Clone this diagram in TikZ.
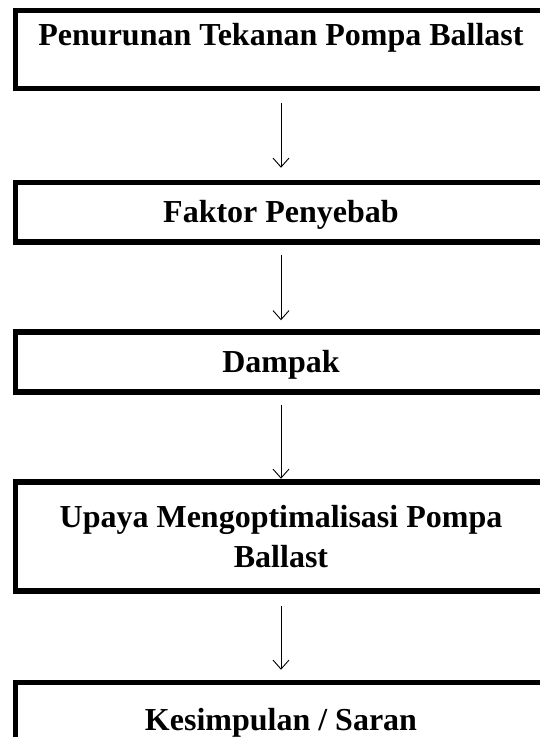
\documentclass[tikz,border=0pt]{standalone}
\usepackage{fontspec}
\setmainfont{Liberation Serif}
\usetikzlibrary{arrows.meta,positioning}

\begin{document}
\begin{tikzpicture}[
    x=1pt,y=-1pt,
    >={Straight Barb[length=9pt,width=16pt]},
    box/.style={draw,line width=5.5pt,minimum width=531pt,align=center,
        font=\fontsize{32}{40}\selectfont\bfseries},
    link/.style={->,line width=0.9pt},
]
\useasboundingbox (0,0) rectangle (540,737);
\clip (0,0) rectangle (540,737);

\node[box,minimum height=78pt,text height=20pt,text depth=29pt] (masalah) at (281,49.5) {Penurunan Tekanan Pompa Ballast};
\node[box,minimum height=59.5pt,text height=22pt,text depth=2pt] (faktor) at (281,212.25) {Faktor Penyebab};
\node[box,minimum height=60pt,text height=22pt,text depth=2pt] (dampak) at (281,362) {Dampak};
\node[box,minimum height=109pt] (upaya) at (281,536.5) {Upaya Mengoptimalisasi Pompa\\Ballast};
\node[box,minimum height=80pt] (simpulan) at (281,722.5) {Kesimpulan / Saran};

% alur
\draw[link,shorten <=12pt,shorten >=12pt] (masalah) -- (faktor);
\draw[link,shorten <=10pt,shorten >=9pt] (faktor) -- (dampak);
\draw[link,shorten <=10pt,shorten >=0.5pt] (dampak) -- (upaya);
\draw[link,shorten <=12pt,shorten >=10pt] (upaya) -- (simpulan);
\end{tikzpicture}
\end{document}
